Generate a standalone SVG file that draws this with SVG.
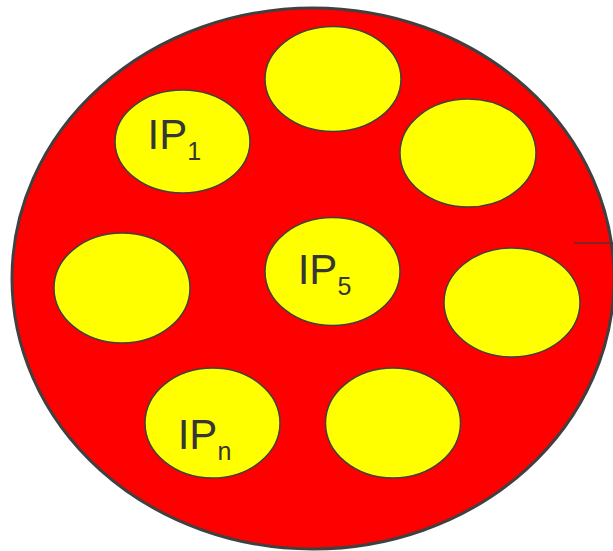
<svg xmlns="http://www.w3.org/2000/svg" width="613" height="551" viewBox="0 0 613 551">
<style>
.ip{fill:#ffff00;stroke:#404040;stroke-width:1.5}
.lbl{font-family:"Liberation Sans",Arial,sans-serif;font-size:42px;fill:#363636}
.sub{font-size:25px}
</style>
<rect width="613" height="551" fill="#ffffff"/>
<g id="outer">
<ellipse cx="313" cy="278.5" rx="301" ry="270.5" fill="#ff0000" stroke="#404040" stroke-width="3"/>
</g>
<g id="connectors">
<line x1="574" y1="243" x2="613" y2="243" stroke="#5a3030" stroke-width="1.5"/>
</g>
<g id="node-top"><ellipse class="ip" cx="333" cy="79" rx="68" ry="52.5"/></g>
<g id="node-ip1"><ellipse class="ip" cx="182.5" cy="141.5" rx="67.5" ry="51.5"/>
<text class="lbl" x="147.5" y="149">IP<tspan class="sub" dy="11">1</tspan></text></g>
<g id="node-topright"><ellipse class="ip" cx="468" cy="153" rx="68" ry="54"/></g>
<g id="node-left"><ellipse class="ip" cx="122" cy="288" rx="68" ry="55"/></g>
<g id="node-ip5"><ellipse class="ip" cx="332.5" cy="271.5" rx="67.5" ry="54"/>
<text class="lbl" x="297.7" y="284">IP<tspan class="sub" dy="11">5</tspan></text></g>
<g id="node-right"><ellipse class="ip" cx="512" cy="302.5" rx="68" ry="54.5"/></g>
<g id="node-ipn"><ellipse class="ip" cx="212.5" cy="423" rx="67.5" ry="55"/>
<text class="lbl" x="177.7" y="449">IP<tspan class="sub" dy="11">n</tspan></text></g>
<g id="node-bottomright"><ellipse class="ip" cx="393" cy="423" rx="67.5" ry="55"/></g>
</svg>
